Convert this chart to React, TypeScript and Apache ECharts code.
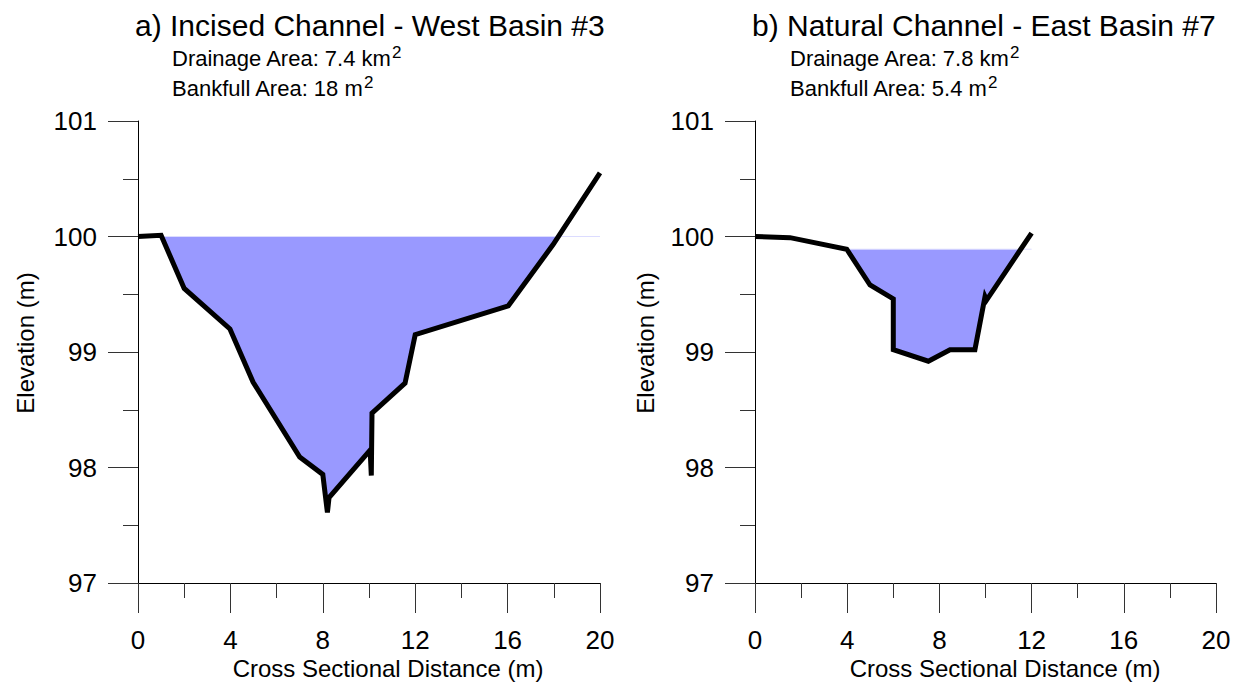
import React, { useEffect, useRef } from "react";
import * as echarts from "echarts";

// Surveyed cross sections: distance across the channel (m) and bed elevation (m)
const westDistance = [0, 1.0, 2.0, 3.98, 4.98, 7.0, 8.0, 8.2, 8.27, 10.05, 10.1, 10.13, 11.56, 12.0, 16.03, 17.97, 20.0];
const westElevation = [100.0, 100.01, 99.55, 99.2, 98.74, 98.09, 97.94, 97.61, 97.74, 98.15, 97.93, 98.47, 98.73, 99.15, 99.4, 99.93, 100.55];
const westBankfull = 100.0;

const eastDistance = [0, 1.52, 3.98, 4.99, 6.0, 6.0, 7.52, 8.46, 9.54, 9.98, 10.05, 12.0];
const eastElevation = [100.0, 99.99, 99.89, 99.58, 99.46, 99.02, 98.92, 99.02, 99.02, 99.48, 99.45, 100.03];
const eastBankfull = 99.89;

const panelTitles = ["a) Incised Channel - West Basin #3", "b) Natural Channel - East Basin #7"];
const drainageAreas = ["7.4", "7.8"];
const bankfullAreas = ["18", "5.4"];

const xTicks = { min: 0, max: 20, interval: 4 };
const yTicks = { min: 97, max: 101, interval: 1 };

const FONT = "'Liberation Sans', Arial, Helvetica, sans-serif";

// Wetted part of a section below the bankfull stage, with crossings interpolated
function wettedOutline(xs: number[], ys: number[], level: number): number[][] {
  const pts: number[][] = [];
  for (let i = 0; i < xs.length; i++) {
    if (i > 0) {
      const y0 = ys[i - 1];
      const y1 = ys[i];
      if ((y0 - level) * (y1 - level) < 0) {
        const t = (level - y0) / (y1 - y0);
        pts.push([xs[i - 1] + t * (xs[i] - xs[i - 1]), level]);
      }
    }
    if (ys[i] <= level) pts.push([xs[i], ys[i]]);
  }
  return pts;
}

function buildPanel(idx: number, xs: number[], ys: number[], level: number) {
  const wet = wettedOutline(xs, ys, level);
  const firstX = wet[0][0];
  const lastX = xs[xs.length - 1];
  return [
    {
      type: "custom",
      xAxisIndex: idx,
      yAxisIndex: idx,
      z: 1,
      silent: true,
      data: [[firstX, level]],
      renderItem: (_params: any, api: any) => ({
        type: "polygon",
        shape: { points: wet.map((p) => api.coord(p)) },
        style: { fill: "#9999ff", stroke: "none" },
      }),
    },
    {
      type: "line",
      xAxisIndex: idx,
      yAxisIndex: idx,
      z: 2,
      silent: true,
      symbol: "none",
      data: [
        [firstX, level],
        [lastX, level],
      ],
      lineStyle: { color: "#dcdcff", width: 1 },
    },
    {
      type: "line",
      xAxisIndex: idx,
      yAxisIndex: idx,
      z: 3,
      silent: true,
      symbol: "none",
      data: xs.map((x, i) => [x, ys[i]]),
      lineStyle: { color: "#000", width: 5, join: "miter", miterLimit: 4, cap: "butt" },
    },
  ];
}

function xAxis(idx: number) {
  return {
    type: "value",
    gridIndex: idx,
    min: xTicks.min,
    max: xTicks.max,
    interval: xTicks.interval,
    axisLine: { show: true, onZero: false, lineStyle: { color: "#000", width: 1 } },
    axisTick: { show: true, inside: false, length: 30, lineStyle: { color: "#333", width: 1 } },
    minorTick: { show: true, splitNumber: 2, length: 15, lineStyle: { color: "#333", width: 1 } },
    splitLine: { show: false },
    minorSplitLine: { show: false },
    axisLabel: { fontSize: 26, color: "#000", fontFamily: FONT, margin: 44 },
  };
}

function yAxis(idx: number) {
  return {
    type: "value",
    gridIndex: idx,
    min: yTicks.min,
    max: yTicks.max,
    interval: yTicks.interval,
    axisLine: { show: true, onZero: false, lineStyle: { color: "#000", width: 1 } },
    axisTick: { show: true, inside: false, length: 30, lineStyle: { color: "#333", width: 1 } },
    minorTick: { show: true, splitNumber: 2, length: 15, lineStyle: { color: "#333", width: 1 } },
    splitLine: { show: false },
    minorSplitLine: { show: false },
    axisLabel: { fontSize: 26, color: "#000", fontFamily: FONT, margin: 41 },
  };
}

function headerTexts(idx: number, titleX: number, subX: number) {
  const sup = { fontSize: 17, lineHeight: 11, verticalAlign: "top", fontFamily: FONT, fill: "#000" };
  return [
    {
      type: "text",
      x: titleX,
      y: 25,
      style: {
        text: panelTitles[idx],
        fontSize: 30,
        fontFamily: FONT,
        fill: "#000",
        textAlign: "left",
        textVerticalAlign: "middle",
      },
    },
    {
      type: "text",
      x: subX,
      y: 44,
      style: {
        text: `Drainage Area: ${drainageAreas[idx]} km{sup|2}`,
        fontSize: 22,
        fontFamily: FONT,
        fill: "#000",
        lineHeight: 28,
        textAlign: "left",
        textVerticalAlign: "top",
        rich: { sup },
      },
    },
    {
      type: "text",
      x: subX,
      y: 74,
      style: {
        text: `Bankfull Area: ${bankfullAreas[idx]} m{sup|2}`,
        fontSize: 22,
        fontFamily: FONT,
        fill: "#000",
        lineHeight: 28,
        textAlign: "left",
        textVerticalAlign: "top",
        rich: { sup },
      },
    },
    {
      type: "text",
      x: idx === 0 ? 25 : 645,
      y: 343,
      rotation: Math.PI / 2,
      style: {
        text: "Elevation (m)",
        fontSize: 24,
        fontFamily: FONT,
        fill: "#000",
        textAlign: "center",
        textVerticalAlign: "middle",
      },
    },
    {
      type: "text",
      x: idx === 0 ? 388 : 1005,
      y: 668,
      style: {
        text: "Cross Sectional Distance (m)",
        fontSize: 24,
        fontFamily: FONT,
        fill: "#000",
        textAlign: "center",
        textVerticalAlign: "middle",
      },
    },
  ];
}

export default function App() {
  const ref = useRef<HTMLDivElement>(null);

  useEffect(() => {
    if (!ref.current) return;
    const chart = echarts.init(ref.current, undefined, { renderer: "svg" });
    chart.setOption({
      animation: false,
      backgroundColor: "#fff",
      grid: [
        { left: 138, top: 121, width: 462, height: 462 },
        { left: 755, top: 121, width: 461, height: 462 },
      ],
      xAxis: [xAxis(0), xAxis(1)],
      yAxis: [yAxis(0), yAxis(1)],
      series: [
        ...buildPanel(0, westDistance, westElevation, westBankfull),
        ...buildPanel(1, eastDistance, eastElevation, eastBankfull),
      ],
      graphic: [...headerTexts(0, 135, 172), ...headerTexts(1, 752, 790)],
    });
    return () => chart.dispose();
  }, []);

  return <div ref={ref} style={{ width: 1243, height: 690, position: "absolute", left: 0, top: 0 }} />;
}
